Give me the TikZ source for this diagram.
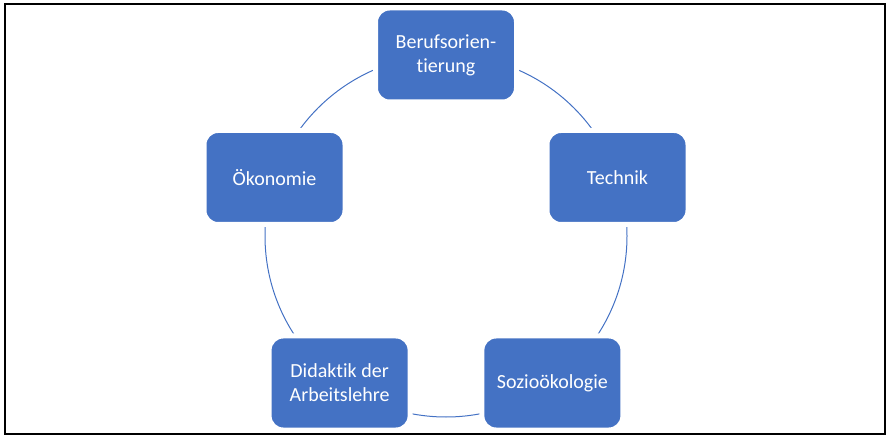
\documentclass[tikz,border=0pt]{standalone}
\usepackage{fontspec}
\setmainfont{Carlito}[Ligatures=NoCommon]
\definecolor{boxblue}{HTML}{4472C4}
\begin{document}
\begin{tikzpicture}[x=1pt,y=-1pt,
  topic/.style={fill=boxblue, draw=white, line width=5pt, rounded corners=14pt,
    minimum width=141pt, minimum height=94pt, text=white, align=center,
    font=\fontsize{20}{24}\selectfont, inner sep=0pt},
  ring/.style={draw=boxblue, line width=1pt},
  frame/.style={draw=black, line width=2pt}]
\useasboundingbox (0,0) rectangle (889,438);
\draw[frame] (5,4) rectangle (885,434);
\coordinate (c) at (446,236);
\draw[ring] (c) circle[radius=181];
\node[topic] (beruf) at (446,55) {Berufsorien-\\tierung};
\node[topic] (technik) at (617.5,177.5) {Technik};
\node[topic] (sozio) at (552.4,383) {Sozioökologie};
\node[topic] (didaktik) at (339.6,383) {Didaktik der\\Arbeitslehre};
\node[topic] (oeko) at (274.5,177.5) {Ökonomie};
\end{tikzpicture}
\end{document}
